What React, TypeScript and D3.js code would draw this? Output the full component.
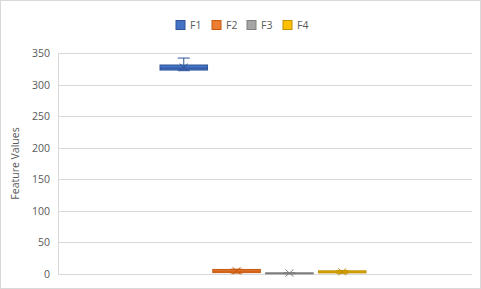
import React from "react";
import * as d3 from "d3";

const seriesNames = ["F1", "F2", "F3", "F4"];
const mins = [322, 1.5, 0.3, 1.2];
const q1s = [323, 2.2, 0.6, 1.8];
const medians = [326, 4.5, 1.2, 3.2];
const q3s = [331, 7.2, 1.8, 5.0];
const maxs = [342, 7.6, 2.0, 5.4];
const means = [327.5, 5.0, 1.5, 3.4];
const fills = ["#4472C4", "#ED7D31", "#A5A5A5", "#FFC000"];
const strokes = ["#2F5597", "#C55A11", "#7F7F7F", "#BF9000"];
const yTicks = [0, 50, 100, 150, 200, 250, 300, 350];

const W = 481, H = 289;
const plot = { left: 58, right: 472, top: 53, bottom: 274 };

export default function App() {
  const y = d3.scaleLinear().domain([0, 350]).range([plot.bottom, plot.top]);
  const x = d3.scaleBand().domain(seriesNames).range([160, 366]).paddingInner(0.1).paddingOuter(0);
  const font = "'Open Sans', 'Liberation Sans', sans-serif";
  const legendX = [176, 212, 247, 283];
  return (
    <svg width={W} height={H} style={{ position: "absolute", left: 0, top: 0, background: "#fff" }}>
      <rect x={0.5} y={0.5} width={W - 1} height={H - 1} fill="#fff" stroke="#D9D9D9" />
      {yTicks.map((t) => (
        <g key={t}>
          <line x1={plot.left} x2={plot.right} y1={Math.round(y(t)) + 0.5} y2={Math.round(y(t)) + 0.5} stroke="#D9D9D9" />
          <text x={50} y={y(t) + 4} textAnchor="end" fontSize={10.5} fill="#595959" fontFamily={font}>{t}</text>
        </g>
      ))}
      <line x1={plot.left + 0.5} x2={plot.left + 0.5} y1={plot.top} y2={plot.bottom} stroke="#D9D9D9" />
      <text transform={`translate(19,${(plot.top + plot.bottom) / 2}) rotate(-90)`} textAnchor="middle" fontSize={10.5} fill="#595959" fontFamily={font}>Feature Values</text>
      {seriesNames.map((s, i) => {
        const x0 = x(s)!;
        const bw = x.bandwidth();
        const cx = x0 + bw / 2;
        const top = y(q3s[i]);
        const bot = y(q1s[i]);
        const my = y(means[i]);
        return (
          <g key={s}>
            <line x1={cx} x2={cx} y1={y(maxs[i])} y2={top} stroke={strokes[i]} />
            <line x1={cx - 6} x2={cx + 6} y1={y(maxs[i])} y2={y(maxs[i])} stroke={strokes[i]} />
            <line x1={cx} x2={cx} y1={bot} y2={y(mins[i])} stroke={strokes[i]} />
            <line x1={cx - 6} x2={cx + 6} y1={y(mins[i])} y2={y(mins[i])} stroke={strokes[i]} />
            <rect x={x0} y={top} width={bw} height={Math.max(1, bot - top)} fill={fills[i]} stroke={strokes[i]} strokeWidth={1} />
            <line x1={x0} x2={x0 + bw} y1={y(medians[i])} y2={y(medians[i])} stroke={strokes[i]} />
            <path d={`M${cx - 4},${my - 3.5}L${cx + 4},${my + 3.5}M${cx - 4},${my + 3.5}L${cx + 4},${my - 3.5}`} stroke={strokes[i]} strokeWidth={1} />
          </g>
        );
      })}
      {seriesNames.map((s, i) => (
        <g key={"lg" + s}>
          <rect x={legendX[i]} y={20.5} width={9} height={9} fill={fills[i]} stroke={strokes[i]} />
          <text x={legendX[i] + 14} y={29} fontSize={10.5} fill="#595959" fontFamily={font}>{s}</text>
        </g>
      ))}
    </svg>
  );
}
